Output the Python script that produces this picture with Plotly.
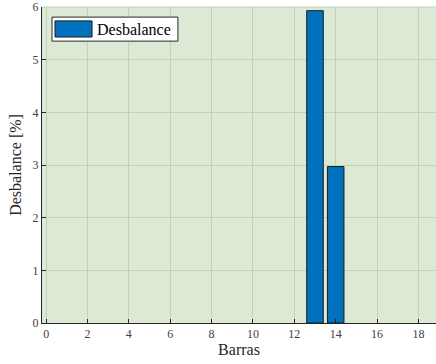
import plotly.graph_objects as go

barras = [13, 14]
desbalance = [5.93, 2.97]
x_ticks = [0, 2, 4, 6, 8, 10, 12, 14, 16, 18]
y_ticks = [0, 1, 2, 3, 4, 5, 6]
legend_label = "Desbalance"

bar_color = "#0072BD"
font = "Liberation Serif"

fig = go.Figure()
fig.add_trace(go.Bar(
    x=barras, y=desbalance, name=legend_label, width=0.8,
    marker=dict(color=bar_color, line=dict(color="#1a1a1a", width=1)),
    showlegend=False,
))

fig.update_layout(
    width=436, height=364,
    margin=dict(l=42, r=0, t=7, b=41),
    paper_bgcolor="white",
    plot_bgcolor="#dce9d4",
    font=dict(family=font, color="#262626"),
    showlegend=False,
    xaxis=dict(range=[-0.2, 18.85], tickvals=x_ticks, ticks="inside", ticklen=4,
               tickcolor="#262626", tickfont=dict(size=12, family=font, color="#404040"), showgrid=True,
               gridcolor="#c3d1bc", gridwidth=1, showline=True, linecolor="#262626",
               linewidth=1, zeroline=False,
               title=dict(text="Barras", font=dict(size=16, family=font, color="#262626"), standoff=3)),
    yaxis=dict(range=[0, 6], tickvals=y_ticks, ticks="inside", ticklen=4,
               tickcolor="#262626", tickfont=dict(size=12, family=font, color="#404040"), showgrid=True,
               gridcolor="#c3d1bc", gridwidth=1, showline=True, linecolor="#262626",
               linewidth=1, zeroline=False,
               title=dict(text="Desbalance [%]", font=dict(size=16, family=font, color="#262626"), standoff=6)),
)
fig.add_shape(type="line", xref="paper", yref="paper", x0=0, x1=1, y0=1, y1=1,
              line=dict(color="#c3d1bc", width=1))
# legend box (drawn manually to match the wide swatch)
fig.add_shape(type="rect", xref="paper", yref="paper", x0=0.0254, x1=0.345, y0=0.892, y1=0.968,
              line=dict(color="#262626", width=1), fillcolor="white", layer="above")
fig.add_shape(type="rect", xref="paper", yref="paper", x0=0.033, x1=0.127, y0=0.905, y1=0.956,
              line=dict(color="#1a1a1a", width=1), fillcolor=bar_color, layer="above")
fig.add_annotation(xref="paper", yref="paper", x=0.134, y=0.930, xanchor="left", yanchor="middle",
                   text=legend_label, showarrow=False,
                   font=dict(size=16, family=font, color="black"))
fig.write_html("out.html")
